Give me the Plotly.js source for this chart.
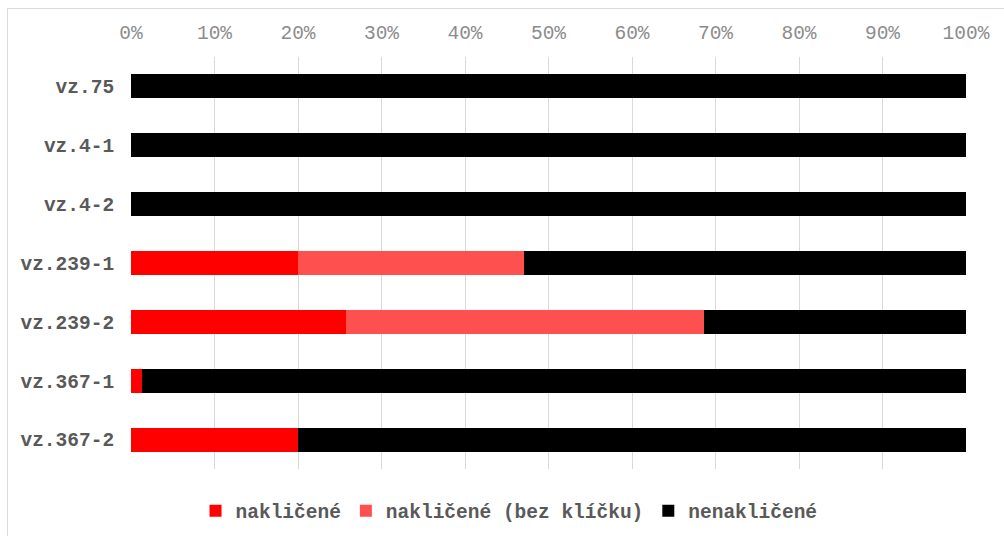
<!DOCTYPE html>
<html>
<head>
<meta charset="utf-8">
<script src="https://cdn.plot.ly/plotly-3.0.1.min.js"></script>
<style>
  html, body { margin: 0; padding: 0; background: #ffffff; }
  #frame { position: absolute; left: 7px; top: 8px; width: 1010px; height: 540px;
           border: 1px solid #d9d9d9; box-sizing: border-box; }
  #chart { position: absolute; left: 0; top: 0; width: 1004px; height: 536px; }
</style>
</head>
<body>
<div id="frame"></div>
<div id="chart"></div>
<script>
// Samples (top to bottom)
const categories = ['vz.75', 'vz.4-1', 'vz.4-2', 'vz.239-1', 'vz.239-2', 'vz.367-1', 'vz.367-2'];

// Share of seeds per sample, in percent
const naklicene      = [0, 0, 0, 20.0, 25.7, 1.3, 20.0];
const nakliceneBez   = [0, 0, 0, 27.1, 42.9, 0, 0];
const nenaklicene    = [100, 100, 100, 52.9, 31.4, 98.7, 80.0];

const seriesNames  = ['nakličené', 'nakličené (bez klíčku)', 'nenakličené'];
const seriesColors = ['#ff0000', '#ff5050', '#000000'];
const seriesValues = [naklicene, nakliceneBez, nenaklicene];

// Percentage axis ticks
const tickValues = [0, 10, 20, 30, 40, 50, 60, 70, 80, 90, 100];
const tickLabels = tickValues.map(v => v + '%');

const monoFont = '"Courier New", "Liberation Mono", monospace';

const traces = seriesValues.map((vals, i) => ({
  type: 'bar',
  orientation: 'h',
  name: seriesNames[i],
  y: categories,
  x: vals,
  marker: { color: seriesColors[i], line: { width: 0 } },
  hoverinfo: 'x+y+name'
}));

const layout = {
  width: 1004,
  height: 536,
  barmode: 'stack',
  bargap: 0.59,
  paper_bgcolor: 'rgba(0,0,0,0)',
  plot_bgcolor: 'rgba(0,0,0,0)',
  margin: { l: 131, r: 38, t: 57, b: 67, pad: 0 },
  font: { family: monoFont, size: 19.5, color: '#595959' },
  xaxis: {
    side: 'top',
    range: [0, 100],
    tickmode: 'array',
    tickvals: tickValues,
    ticktext: tickLabels,
    showgrid: true,
    gridcolor: '#d9d9d9',
    gridwidth: 1,
    zeroline: false,
    showline: false,
    ticks: 'outside',
    ticklen: 9,
    tickcolor: 'rgba(0,0,0,0)',
    tickfont: { family: monoFont, size: 19.5, color: '#8c8c8c' },
    fixedrange: true
  },
  yaxis: {
    type: 'category',
    autorange: 'reversed',
    showgrid: false,
    zeroline: false,
    showline: false,
    ticks: 'outside',
    ticklen: 12,
    tickcolor: 'rgba(0,0,0,0)',
    tickfont: { family: monoFont, size: 19.5, color: '#595959', weight: 'bold' },
    fixedrange: true
  },
  showlegend: true,
  legend: {
    orientation: 'h',
    xref: 'container',
    yref: 'container',
    x: 0.507,
    xanchor: 'center',
    y: 0.0466,
    yanchor: 'middle',
    traceorder: 'normal',
    font: { family: monoFont, size: 19.5, color: '#595959', weight: 'bold' },
    bgcolor: 'rgba(0,0,0,0)'
  }
};

Plotly.newPlot('chart', traces, layout, { displayModeBar: false, staticPlot: true });
</script>
</body>
</html>
